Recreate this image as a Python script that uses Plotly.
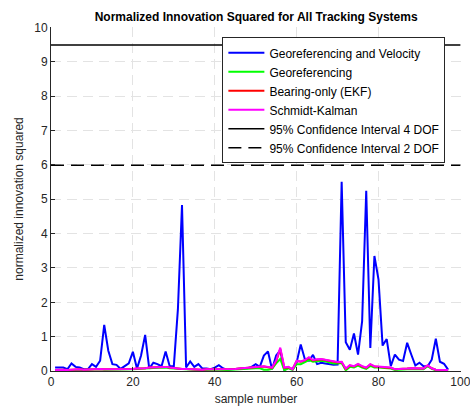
import plotly.graph_objects as go

samples = list(range(1, 98))

geo_vel = [0.10, 0.10, 0.10, 0.05, 0.22, 0.12, 0.10, 0.05, 0.05, 0.20,
           0.12, 0.30, 1.34, 0.59, 0.20, 0.18, 0.06, 0.14, 0.22, 0.56,
           0.07, 0.45, 1.05, 0.07, 0.24, 0.20, 0.14, 0.57, 0.14, 0.14,
           1.80, 4.83, 0.10, 0.28, 0.12, 0.20, 0.07, 0.07, 0.05, 0.10,
           0.17, 0.08, 0.03, 0.05, 0.06, 0.07, 0.08, 0.08, 0.12, 0.20,
           0.12, 0.45, 0.57, 0.05, 0.45, 0.60, 0.03, 0.10, 0.05, 0.25,
           0.77, 0.35, 0.30, 0.47, 0.20, 0.24, 0.22, 0.20, 0.18, 0.19,
           5.51, 0.84, 0.62, 1.09, 0.48, 1.45, 5.25, 0.67, 3.35, 2.66,
           0.74, 0.93, 0.14, 0.48, 0.33, 0.29, 0.82, 0.48, 0.16, 0.24,
           0.14, 0.14, 0.33, 0.94, 0.27, 0.21, 0.04]

georef = [0.02, 0.03, 0.03, 0.02, 0.03, 0.04, 0.04, 0.03, 0.04, 0.05,
          0.06, 0.05, 0.04, 0.04, 0.03, 0.03, 0.03, 0.04, 0.04, 0.05,
          0.06, 0.06, 0.07, 0.08, 0.09, 0.10, 0.11, 0.10, 0.08, 0.07,
          0.06, 0.05, 0.05, 0.04, 0.03, 0.03, 0.03, 0.04, 0.04, 0.04,
          0.04, 0.03, 0.03, 0.04, 0.05, 0.05, 0.06, 0.07, 0.07, 0.08,
          0.08, 0.04, 0.04, 0.06, 0.22, 0.35, 0.02, 0.08, 0.03, 0.20,
          0.20, 0.25, 0.32, 0.27, 0.28, 0.30, 0.28, 0.25, 0.22, 0.22,
          0.23, 0.02, 0.12, 0.10, 0.16, 0.10, 0.06, 0.15, 0.10, 0.10,
          0.09, 0.07, 0.07, 0.03, 0.03, 0.04, 0.05, 0.06, 0.06, 0.06,
          0.05, 0.14, 0.06, 0.02, 0.02, 0.02, 0.02]

ekf = [0.03, 0.04, 0.04, 0.03, 0.04, 0.05, 0.05, 0.04, 0.05, 0.06,
       0.07, 0.06, 0.05, 0.05, 0.04, 0.04, 0.04, 0.05, 0.05, 0.06,
       0.07, 0.07, 0.08, 0.10, 0.11, 0.12, 0.13, 0.12, 0.10, 0.08,
       0.07, 0.06, 0.06, 0.05, 0.04, 0.04, 0.04, 0.05, 0.05, 0.05,
       0.05, 0.04, 0.04, 0.05, 0.06, 0.07, 0.08, 0.09, 0.10, 0.11,
       0.13, 0.13, 0.11, 0.09, 0.28, 0.64, 0.09, 0.11, 0.05, 0.29,
       0.27, 0.31, 0.38, 0.31, 0.33, 0.34, 0.32, 0.29, 0.26, 0.25,
       0.26, 0.06, 0.16, 0.13, 0.20, 0.13, 0.09, 0.19, 0.13, 0.12,
       0.11, 0.09, 0.09, 0.05, 0.05, 0.06, 0.07, 0.08, 0.08, 0.08,
       0.07, 0.16, 0.08, 0.04, 0.03, 0.03, 0.03]

schmidt = [0.03, 0.04, 0.04, 0.03, 0.04, 0.05, 0.05, 0.04, 0.05, 0.06,
           0.07, 0.06, 0.05, 0.05, 0.04, 0.04, 0.04, 0.05, 0.05, 0.06,
           0.07, 0.07, 0.08, 0.10, 0.11, 0.12, 0.13, 0.12, 0.10, 0.08,
           0.07, 0.06, 0.06, 0.05, 0.04, 0.04, 0.04, 0.05, 0.05, 0.05,
           0.05, 0.04, 0.04, 0.05, 0.06, 0.07, 0.08, 0.09, 0.10, 0.12,
           0.14, 0.14, 0.12, 0.10, 0.30, 0.68, 0.10, 0.12, 0.05, 0.30,
           0.28, 0.32, 0.40, 0.32, 0.34, 0.35, 0.33, 0.30, 0.27, 0.26,
           0.27, 0.07, 0.17, 0.14, 0.21, 0.14, 0.10, 0.20, 0.14, 0.13,
           0.12, 0.10, 0.10, 0.05, 0.05, 0.06, 0.07, 0.08, 0.08, 0.08,
           0.07, 0.17, 0.08, 0.04, 0.03, 0.03, 0.03]

x_limits = [0, 100]
y_limits = [0, 10]
ci_4dof = 9.488
ci_2dof = 5.991

x_ticks = [0, 20, 40, 60, 80, 100]
y_ticks = list(range(0, 11))

font_family = "Liberation Sans, Arial, Helvetica, sans-serif"
axis_color = "#262626"

fig = go.Figure()
fig.add_trace(go.Scatter(x=samples, y=geo_vel, mode="lines",
                         name="Georeferencing and Velocity",
                         line=dict(color="#0000ff", width=2)))
fig.add_trace(go.Scatter(x=samples, y=georef, mode="lines",
                         name="Georeferencing",
                         line=dict(color="#00ff00", width=2)))
fig.add_trace(go.Scatter(x=samples, y=ekf, mode="lines",
                         name="Bearing-only (EKF)",
                         line=dict(color="#ff0000", width=2)))
fig.add_trace(go.Scatter(x=samples, y=schmidt, mode="lines",
                         name="Schmidt-Kalman",
                         line=dict(color="#ff00ff", width=2)))
fig.add_trace(go.Scatter(x=x_limits, y=[ci_4dof, ci_4dof], mode="lines",
                         name="95% Confidence Interval 4 DOF",
                         line=dict(color="#000000", width=1.5)))
fig.add_trace(go.Scatter(x=x_limits, y=[ci_2dof, ci_2dof], mode="lines",
                         name="95% Confidence Interval 2 DOF",
                         line=dict(color="#000000", width=1.5, dash="13px,7px")))

axis_common = dict(
    showline=True, linecolor=axis_color, linewidth=1, mirror=False,
    ticks="inside", ticklen=4, tickcolor=axis_color, tickwidth=1,
    showgrid=True, gridcolor="#e3e3e3", gridwidth=1, griddash="10px,6px",
    zeroline=False, automargin=False,
    tickfont=dict(family=font_family, size=12, color=axis_color),
    title_font=dict(family=font_family, size=12, color=axis_color),
)

fig.update_xaxes(range=[x_limits[0], x_limits[1] + 0.15], tickvals=x_ticks,
                 title_text="sample number", title_standoff=6,
                 ticklabeloverflow="allow", **axis_common)
fig.update_yaxes(range=[y_limits[0], y_limits[1] + 0.015], tickvals=y_ticks,
                 title_text="normalized innovation squared",
                 title_standoff=8, **axis_common)

fig.update_layout(
    width=470, height=409,
    margin=dict(l=51, r=9, t=27, b=37.5, pad=0),
    paper_bgcolor="white", plot_bgcolor="white",
    font=dict(family=font_family, size=12, color=axis_color),
    title=dict(text="<b>Normalized Innovation Squared for All Tracking Systems</b>",
               x=0.545, xanchor="center", y=1 - 17 / 409, yanchor="middle",
               yref="container",
               font=dict(family=font_family, size=12, color="#000000")),
    showlegend=True,
    legend=dict(x=0.418, y=0.97, xanchor="left", yanchor="top",
                bgcolor="white", bordercolor="#262626", borderwidth=1,
                font=dict(family=font_family, size=12, color="#000000"),
                tracegroupgap=0, itemwidth=36),
)

fig.write_html("out.html")
